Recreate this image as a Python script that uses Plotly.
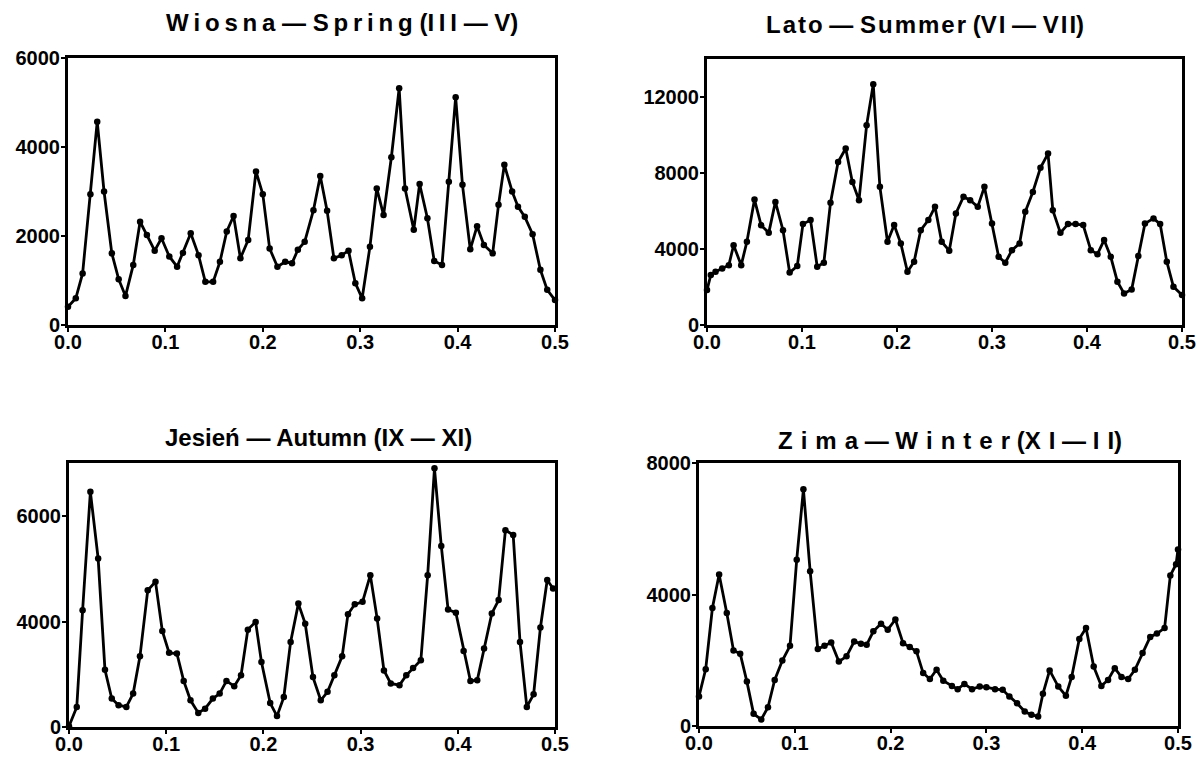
import plotly.graph_objects as go

# ---------------- data ----------------
spring_f = [0.000, 0.008, 0.015, 0.023, 0.030, 0.037, 0.045, 0.052, 0.059, 0.067,
            0.074, 0.081, 0.089, 0.096, 0.104, 0.112, 0.118, 0.126, 0.134, 0.141,
            0.149, 0.156, 0.163, 0.170, 0.177, 0.185, 0.193, 0.200, 0.207, 0.215,
            0.223, 0.230, 0.236, 0.243, 0.252, 0.259, 0.266, 0.273, 0.281, 0.288,
            0.295, 0.302, 0.310, 0.317, 0.324, 0.332, 0.340, 0.346, 0.355, 0.361,
            0.369, 0.376, 0.384, 0.391, 0.398, 0.405, 0.413, 0.420, 0.427, 0.436,
            0.442, 0.448, 0.456, 0.462, 0.469, 0.477, 0.485, 0.492, 0.500]
spring_v = [410, 600, 1160, 2940, 4570, 3000, 1610, 1030, 650, 1350,
            2320, 2020, 1670, 1950, 1540, 1310, 1620, 2060, 1570, 970,
            970, 1420, 2100, 2450, 1500, 1910, 3450, 2940, 1720, 1310,
            1420, 1390, 1690, 1870, 2580, 3350, 2570, 1500, 1570, 1670,
            940, 600, 1760, 3070, 2470, 3770, 5320, 3070, 2140, 3170,
            2400, 1440, 1350, 3220, 5120, 3150, 1700, 2220, 1800, 1610,
            2700, 3600, 3000, 2660, 2430, 2040, 1240, 790, 560]

summer_f = [0.000, 0.004, 0.009, 0.016, 0.023, 0.028, 0.036, 0.042, 0.050, 0.057,
            0.065, 0.072, 0.080, 0.087, 0.095, 0.101, 0.109, 0.116, 0.123, 0.130,
            0.138, 0.146, 0.153, 0.160, 0.168, 0.175, 0.182, 0.190, 0.197, 0.204,
            0.211, 0.218, 0.225, 0.233, 0.240, 0.247, 0.255, 0.262, 0.270, 0.277,
            0.285, 0.292, 0.300, 0.307, 0.314, 0.321, 0.329, 0.335, 0.343, 0.351,
            0.359, 0.364, 0.372, 0.380, 0.388, 0.396, 0.404, 0.411, 0.418, 0.425,
            0.432, 0.439, 0.447, 0.454, 0.461, 0.470, 0.477, 0.484, 0.491, 0.500]
summer_v = [1840, 2630, 2800, 2980, 3150, 4200, 3150, 4380, 6600, 5250,
            4850, 6480, 4990, 2760, 3100, 5310, 5520, 3070, 3280, 6430,
            8580, 9290, 7530, 6570, 10510, 12670, 7270, 4380, 5260, 4290,
            2800, 3330, 4990, 5520, 6220, 4380, 3910, 5870, 6750, 6570,
            6220, 7270, 5340, 3590, 3280, 3940, 4290, 5960, 7000, 8270,
            9020, 6040, 4850, 5310, 5310, 5260, 3940, 3730, 4470, 3590,
            2280, 1660, 1870, 3630, 5340, 5610, 5310, 3330, 2010, 1580]

autumn_f = [0.000, 0.008, 0.014, 0.022, 0.030, 0.037, 0.044, 0.051, 0.059, 0.066,
            0.073, 0.081, 0.089, 0.096, 0.103, 0.111, 0.118, 0.125, 0.133, 0.140,
            0.148, 0.155, 0.162, 0.170, 0.177, 0.184, 0.192, 0.198, 0.207, 0.214,
            0.221, 0.228, 0.236, 0.243, 0.251, 0.259, 0.266, 0.273, 0.281, 0.287,
            0.294, 0.302, 0.310, 0.317, 0.324, 0.331, 0.340, 0.347, 0.354, 0.362,
            0.369, 0.376, 0.383, 0.390, 0.398, 0.406, 0.413, 0.420, 0.427, 0.435,
            0.442, 0.449, 0.457, 0.464, 0.471, 0.478, 0.485, 0.492, 0.498]
autumn_v = [20, 570, 3320, 6690, 4790, 1630, 810, 620, 570, 950,
            2010, 3890, 4130, 2730, 2110, 2090, 1310, 760, 400, 520,
            810, 950, 1310, 1160, 1470, 2770, 2990, 1850, 680, 310,
            850, 2420, 3510, 2940, 1420, 760, 1000, 1470, 2010, 3210,
            3490, 3560, 4320, 3090, 1610, 1240, 1190, 1470, 1680, 1900,
            4320, 7360, 5150, 3340, 3250, 2160, 1310, 1330, 2230, 3230,
            3610, 5600, 5460, 2420, 570, 930, 2830, 4180, 3940]

winter_f = [0.000, 0.007, 0.014, 0.021, 0.029, 0.036, 0.043, 0.050, 0.057, 0.065,
            0.072, 0.079, 0.087, 0.095, 0.102, 0.109, 0.116, 0.124, 0.131, 0.138,
            0.146, 0.154, 0.162, 0.169, 0.175, 0.182, 0.190, 0.197, 0.205, 0.213,
            0.220, 0.227, 0.234, 0.241, 0.248, 0.255, 0.264, 0.270, 0.277, 0.285,
            0.293, 0.300, 0.309, 0.317, 0.324, 0.332, 0.340, 0.347, 0.354, 0.359,
            0.366, 0.375, 0.383, 0.389, 0.397, 0.404, 0.412, 0.420, 0.427, 0.434,
            0.441, 0.448, 0.455, 0.463, 0.471, 0.478, 0.486, 0.492, 0.498, 0.500]
winter_v = [900, 1730, 3590, 4610, 3440, 2300, 2200, 1350, 370, 200,
            570, 1400, 1990, 2440, 5060, 7200, 4710, 2340, 2440, 2540,
            1960, 2120, 2570, 2500, 2470, 2880, 3110, 2930, 3240, 2520,
            2400, 2270, 1610, 1430, 1710, 1380, 1220, 1120, 1280, 1120,
            1200, 1180, 1120, 1100, 900, 690, 440, 340, 290, 980,
            1690, 1200, 920, 1490, 2650, 2980, 1810, 1220, 1400, 1760,
            1490, 1430, 1710, 2220, 2710, 2810, 2980, 4580, 4920, 5370]


def spaced(text, gap):
    """Insert a narrow space between letters (the titles are letter-spaced)."""
    return gap.join(text)


titles = [spaced("Wiosna", "\u2009") + " \u2014 " + spaced("Spring", "\u2009") + " (" + spaced("III", "\u2009") + " \u2014 V)",
          spaced("Lato", "\u200a") + " \u2014 " + spaced("Summer", "\u200a") + " (" + spaced("VI", "\u200a") + " \u2014 " + spaced("VII", "\u200a") + ")",
          "Jesień \u2014 Autumn (IX \u2014 XI)",
          spaced("Zima", "\u2004") + " \u2014 " + spaced("Winter", "\u2004") + " (" + spaced("XI", "\u2004") + " \u2014 " + spaced("II", "\u2004") + ")"]

x_tickvals = [0.0, 0.1, 0.2, 0.3, 0.4, 0.5]
x_ticktext = ["0.0", "0.1", "0.2", "0.3", "0.4", "0.5"]

spring_yticks = [0, 2000, 4000, 6000]
spring_ylabels = ["0", "2000", "4000", "6000"]
summer_yticks = [0, 4000, 8000, 12000]
summer_ylabels = ["0", "4000", "8000", "12000"]
autumn_yticks = [0, 3000, 6000]
autumn_ylabels = ["0", "4000", "6000"]
winter_yticks = [0, 4000, 8000]
winter_ylabels = ["0", "4000", "8000"]

# ---------------- figure ----------------
W, H = 1202, 759
FONT = "Liberation Sans, Arial, sans-serif"

series = [(spring_f, spring_v), (summer_f, summer_v), (autumn_f, autumn_v), (winter_f, winter_v)]
# pixel boxes: (left, right, top, bottom)
boxes = [(68, 555, 58, 325), (707, 1182, 59, 325), (69, 555, 463, 727), (699, 1178, 463, 726)]
yranges = [[0, 6000], [0, 14000], [0, 7510], [0, 8000]]
yticks = [(spring_yticks, spring_ylabels), (summer_yticks, summer_ylabels),
          (autumn_yticks, autumn_ylabels), (winter_yticks, winter_ylabels)]
title_pos = [(342, 23), (925, 24), (318, 437), (950, 440)]

fig = go.Figure()
layout = dict(width=W, height=H, margin=dict(l=0, r=0, t=0, b=0),
              paper_bgcolor="white", plot_bgcolor="white", showlegend=False,
              font=dict(family=FONT, color="black"))
annotations = []
for i, ((fx, fy), (l, r, t, b)) in enumerate(zip(series, boxes)):
    n = "" if i == 0 else str(i + 1)
    fig.add_trace(go.Scatter(x=fx, y=fy, xaxis="x" + n, yaxis="y" + n,
                             mode="lines+markers",
                             line=dict(color="black", width=2.8),
                             marker=dict(color="black", size=6.5),
                             cliponaxis=False, hoverinfo="skip"))
    axcommon = dict(showline=True, linecolor="black", linewidth=3, mirror=True,
                    ticks="outside", ticklen=4, tickwidth=2, tickcolor="black",
                    showgrid=False, zeroline=False, automargin=False,
                    tickfont=dict(family=FONT, size=20, color="black", weight="bold"))
    layout["xaxis" + n] = dict(axcommon, domain=[l / W, r / W], range=[0, 0.5],
                               tickvals=x_tickvals, ticktext=x_ticktext,
                               ticklabelstandoff=-7, anchor="y" + n)
    layout["yaxis" + n] = dict(axcommon, domain=[1 - b / H, 1 - t / H], range=yranges[i],
                               tickvals=yticks[i][0], ticktext=yticks[i][1],
                               ticklabelstandoff=-3, anchor="x" + n)
    cx, cy = title_pos[i]
    annotations.append(dict(text=titles[i], x=cx / W, y=1 - cy / H, xref="paper", yref="paper",
                            xanchor="center", yanchor="middle", showarrow=False,
                            font=dict(family=FONT, size=24, color="black", weight="bold")))
layout["annotations"] = annotations
fig.update_layout(**layout)
fig.write_html("out.html")
